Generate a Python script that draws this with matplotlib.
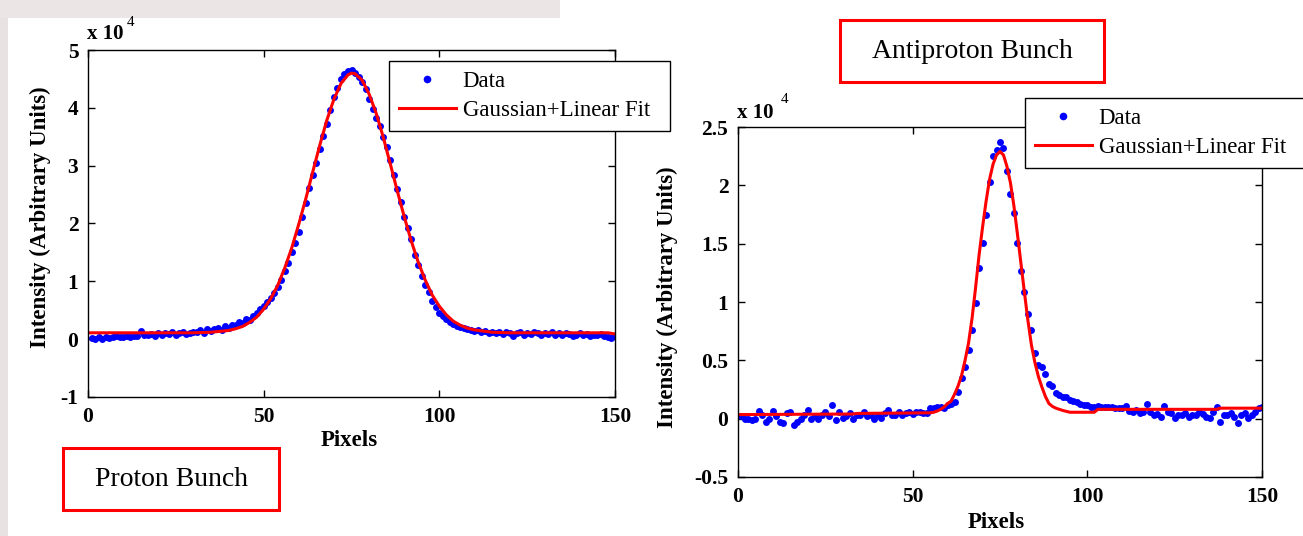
import matplotlib
matplotlib.use("Agg")
import matplotlib.pyplot as plt
from matplotlib.patches import Rectangle

W, H = 1303, 536

# ---------------- data (intensity in units of 10^4) ----------------
proton_pixels = list(range(1, 151))
proton_data = [
    0.02, 0.00, 0.03, 0.01, 0.04, 0.02, 0.03, 0.05, 0.03, 0.04,
    0.05, 0.04, 0.06, 0.05, 0.14, 0.08, 0.07, 0.09, 0.06, 0.10,
    0.08, 0.11, 0.09, 0.12, 0.07, 0.10, 0.12, 0.09, 0.11, 0.13,
    0.12, 0.15, 0.11, 0.18, 0.14, 0.17, 0.19, 0.16, 0.22, 0.20,
    0.25, 0.24, 0.30, 0.28, 0.35, 0.33, 0.40, 0.46, 0.52, 0.58,
    0.65, 0.72, 0.80, 0.90, 1.03, 1.18, 1.32, 1.50, 1.66, 1.86,
    2.12, 2.36, 2.62, 2.84, 3.04, 3.28, 3.52, 3.72, 3.96, 4.18,
    4.35, 4.50, 4.58, 4.63, 4.66, 4.60, 4.54, 4.45, 4.32, 4.15,
    3.98, 3.82, 3.68, 3.50, 3.33, 3.10, 2.84, 2.60, 2.38, 2.12,
    1.92, 1.74, 1.46, 1.28, 1.09, 0.94, 0.81, 0.66, 0.56, 0.46,
    0.40, 0.35, 0.30, 0.27, 0.23, 0.21, 0.19, 0.17, 0.16, 0.14,
    0.15, 0.12, 0.14, 0.11, 0.13, 0.10, 0.12, 0.09, 0.13, 0.11,
    0.06, 0.10, 0.12, 0.08, 0.11, 0.09, 0.13, 0.10, 0.07, 0.11,
    0.09, 0.12, 0.08, 0.10, 0.07, 0.11, 0.09, 0.06, 0.08, 0.10,
    0.07, 0.09, 0.05, 0.08, 0.07, 0.09, 0.06, 0.04, 0.02, 0.06,
]
proton_fit_pixels = [0, 10, 20, 30, 35, 40, 42, 44, 46, 48, 50, 52, 54, 56, 58,
                     60, 62, 64, 66, 68, 70, 72, 74, 75, 76, 78, 80, 82, 84, 86,
                     88, 90, 92, 94, 96, 98, 100, 102, 104, 106, 108, 110, 115,
                     120, 130, 140, 148, 150]
proton_fit = [0.11, 0.11, 0.11, 0.11, 0.12, 0.15, 0.18, 0.22, 0.29, 0.38, 0.52,
              0.70, 0.93, 1.23, 1.58, 1.99, 2.43, 2.90, 3.36, 3.79, 4.15, 4.42,
              4.57, 4.60, 4.59, 4.48, 4.24, 3.91, 3.50, 3.04, 2.57, 2.12, 1.70,
              1.33, 1.02, 0.76, 0.57, 0.42, 0.31, 0.24, 0.19, 0.16, 0.12, 0.11,
              0.11, 0.11, 0.11, 0.09]

antiproton_pixels = list(range(1, 151))
antiproton_data = [
    0.02, 0.00, 0.00, -0.01, 0.00, 0.066, 0.03, -0.026, 0.00, 0.066,
    0.02, -0.026, -0.04, 0.046, 0.06, -0.054, -0.026, 0.00, 0.03, 0.074,
    0.00, 0.02, 0.00, 0.03, 0.06, 0.02, 0.117, -0.01, 0.06, 0.01,
    0.02, 0.046, 0.00, 0.03, 0.03, 0.06, 0.02, 0.03, 0.00, 0.03,
    0.01, 0.046, 0.074, 0.03, 0.03, 0.06, 0.03, 0.046, 0.06, 0.04,
    0.06, 0.06, 0.046, 0.05, 0.089, 0.089, 0.10, 0.10, 0.095, 0.12,
    0.13, 0.146, 0.23, 0.35, 0.44, 0.59, 0.76, 0.99, 1.29, 1.51,
    1.75, 2.03, 2.25, 2.30, 2.37, 2.32, 2.12, 1.93, 1.76, 1.51,
    1.27, 1.09, 0.90, 0.76, 0.56, 0.46, 0.44, 0.38, 0.30, 0.28,
    0.22, 0.20, 0.19, 0.19, 0.16, 0.15, 0.146, 0.13, 0.117, 0.117,
    0.10, 0.10, 0.11, 0.098, 0.10, 0.10, 0.10, 0.089, 0.089, 0.089,
    0.11, 0.07, 0.06, 0.074, 0.046, 0.06, 0.126, 0.06, 0.03, 0.04,
    0.017, 0.11, 0.06, 0.046, 0.003, 0.03, 0.03, 0.046, 0.017, 0.03,
    0.03, 0.06, 0.04, 0.017, 0.003, 0.06, 0.10, -0.025, 0.03, 0.03,
    0.046, 0.017, -0.034, 0.03, 0.046, 0.003, 0.03, 0.06, 0.089, 0.10,
]
antiproton_fit_pixels = [0, 33, 34, 55, 56, 57, 58, 59, 60, 61, 62, 63, 64, 65,
                         66, 67, 68, 69, 70, 71, 72, 73, 74, 75, 76, 77, 78, 79,
                         80, 81, 82, 83, 84, 85, 86, 87, 88, 89, 90, 91, 92, 93,
                         95, 102, 103, 137, 138, 150]
antiproton_fit = [0.035, 0.04, 0.045, 0.05, 0.055, 0.065, 0.08, 0.10, 0.13, 0.15,
                  0.21, 0.28, 0.37, 0.50, 0.65, 0.86, 1.12, 1.40, 1.64, 1.86,
                  2.05, 2.18, 2.26, 2.29, 2.26, 2.16, 2.02, 1.82, 1.58, 1.33,
                  1.08, 0.84, 0.63, 0.48, 0.36, 0.27, 0.19, 0.13, 0.105, 0.09,
                  0.08, 0.07, 0.055, 0.055, 0.08, 0.08, 0.09, 0.09]

x_ticks = [0, 50, 100, 150]
x_ticklabels = ["0", "50", "100", "150"]
proton_yticks = [-1, 0, 1, 2, 3, 4, 5]
proton_yticklabels = ["-1", "0", "1", "2", "3", "4", "5"]
anti_yticks = [-0.5, 0, 0.5, 1, 1.5, 2, 2.5]
anti_yticklabels = ["-0.5", "0", "0.5", "1", "1.5", "2", "2.5"]

SERIF = "Liberation Serif"
BLUE = "#0000ff"
RED = "#ff0000"

plt.rcParams["font.family"] = [SERIF, "DejaVu Serif"]

fig = plt.figure(figsize=(W / 100, H / 100), dpi=100)
fig.patch.set_facecolor("white")


def fx(px):
    return px / W


def fy(py):
    return 1 - py / H


# faded slide background strips
fig.add_artist(Rectangle((0, 0), fx(8), 1, transform=fig.transFigure,
                         facecolor="#e8e2e3", edgecolor="none", zorder=-10))
fig.add_artist(Rectangle((0, fy(18)), fx(560), 18 / H, transform=fig.transFigure,
                         facecolor="#ebe5e6", edgecolor="none", zorder=-10))


def style_axes(ax, xt, xtl, yt, ytl, xlim, ylim):
    ax.set_xlim(*xlim)
    ax.set_ylim(*ylim)
    ax.set_xticks(xt)
    ax.set_xticklabels(xtl)
    ax.set_yticks(yt)
    ax.set_yticklabels(ytl)
    ax.tick_params(direction="in", top=True, right=True, length=5, width=1,
                   labelsize=15.5, pad=7, colors="black")
    for lab in ax.get_xticklabels() + ax.get_yticklabels():
        lab.set_fontweight("bold")
    for sp in ax.spines.values():
        sp.set_linewidth(1.0)
        sp.set_color("black")


def make_panel(ax, px, data, fpx, fit, yt, ytl, ylim, legend_box,
               xlabel_xy, ylabel_xy):
    d, = ax.plot(px, data, linestyle="none", marker="o", markersize=5.0,
                 markerfacecolor=BLUE, markeredgecolor="none", label="Data")
    f, = ax.plot(fpx, fit, color=RED, linewidth=2.2,
                 label="Gaussian+Linear Fit")
    style_axes(ax, x_ticks, x_ticklabels, yt, ytl, (0, 150), ylim)
    ax.set_xlabel("Pixels", fontsize=16.5, fontweight="bold", va="center")
    ax.xaxis.set_label_coords(*xlabel_xy)
    ax.set_ylabel("Intensity (Arbitrary Units)", fontsize=16.5, fontweight="bold",
                  va="center", ha="center")
    ax.yaxis.set_label_coords(*ylabel_xy)
    x0, y0, x1, y1 = legend_box
    leg = ax.legend(handles=[d, f], loc="upper left",
                    bbox_to_anchor=(fx(x0), fy(y1), fx(x1) - fx(x0), (y1 - y0) / H),
                    bbox_transform=fig.transFigure, mode="expand",
                    borderaxespad=0, fancybox=False, framealpha=1,
                    edgecolor="black", prop={"family": SERIF, "size": 16.5},
                    handlelength=2.5, handletextpad=0.3, borderpad=0.42,
                    labelspacing=0.37, numpoints=1, markerscale=1.1)
    leg.get_frame().set_linewidth(1.0)
    leg.set_zorder(10)


ax1 = fig.add_axes([fx(88), fy(397), fx(615) - fx(88), (397 - 50) / H])
make_panel(ax1, proton_pixels, proton_data, proton_fit_pixels, proton_fit,
           proton_yticks, proton_yticklabels, (-1, 5),
           (389, 61, 670, 129), (0.495, -0.124), (-0.091, 0.519))

ax2 = fig.add_axes([fx(738), fy(477), fx(1262) - fx(738), (477 - 127) / H])
make_panel(ax2, antiproton_pixels, antiproton_data, antiproton_fit_pixels,
           antiproton_fit, anti_yticks, anti_yticklabels, (-0.5, 2.5),
           (1025, 98, 1340, 169), (0.492, -0.131), (-0.134, 0.514))

# exponent labels
fig.text(fx(87), fy(39), "x 10", fontsize=15, fontweight="bold",
         ha="left", va="baseline")
fig.text(fx(127), fy(26), "4", fontsize=11, ha="left", va="baseline")
fig.text(fx(737), fy(118), "x 10", fontsize=15, fontweight="bold",
         ha="left", va="baseline")
fig.text(fx(781), fy(103), "4", fontsize=11, ha="left", va="baseline")

# red annotation boxes
for (x0, y0, x1, y1, label) in [(63, 448, 279, 510, "Proton Bunch"),
                                (840, 20, 1104, 82, "Antiproton Bunch")]:
    fig.add_artist(Rectangle((fx(x0), fy(y1)), fx(x1) - fx(x0), (y1 - y0) / H,
                             transform=fig.transFigure, facecolor="white",
                             edgecolor=RED, linewidth=2.2, zorder=5))
    fig.text((fx(x0) + fx(x1)) / 2, (fy(y0) + fy(y1)) / 2, label, fontsize=20,
             ha="center", va="center", zorder=6)

fig.savefig("out.png", dpi=100, facecolor=fig.get_facecolor())
